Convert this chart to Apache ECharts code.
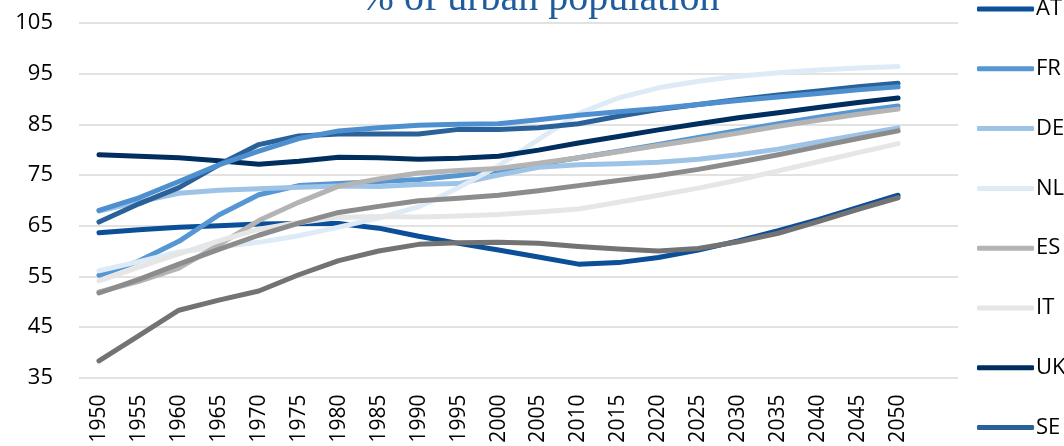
<!DOCTYPE html>
<html>
<head>
<meta charset="utf-8">
<script src="https://cdn.jsdelivr.net/npm/echarts@6/dist/echarts.min.js"></script>
<style>
html,body{margin:0;padding:0;background:#fff;}
#chart{width:1064px;height:446px;}
</style>
</head>
<body>
<div id="chart"></div>
<script>
const years = ['1950','1955','1960','1965','1970','1975','1980','1985','1990','1995','2000','2005','2010','2015','2020','2025','2030','2035','2040','2045','2050',''];
const titleText = '% of urban population';
const yTicks = {min: 35, max: 105, interval: 10};

const AT = [63.6,64.2,64.7,65.0,65.3,65.4,65.4,64.5,62.9,61.5,60.2,58.8,57.4,57.7,58.7,60.2,62.0,64.0,66.2,68.6,71.0];
const FR = [55.2,58.0,61.9,67.1,71.1,72.9,73.3,73.7,74.1,74.9,75.9,77.1,78.4,79.7,81.0,82.4,83.8,85.1,86.4,87.6,88.6];
const DE = [67.9,69.7,71.4,72.0,72.3,72.6,72.8,72.7,73.1,73.3,75.0,76.5,77.0,77.2,77.5,78.1,79.0,80.1,81.5,82.9,84.3];
const NL = [56.1,57.9,59.8,60.8,61.7,63.0,64.7,66.5,68.7,72.5,76.8,82.0,87.1,90.2,92.2,93.5,94.5,95.2,95.7,96.1,96.4];
const ES = [51.9,54.0,56.6,61.2,66.0,69.6,72.8,74.2,75.4,75.9,76.3,77.3,78.4,79.6,80.8,82.0,83.3,84.6,85.8,87.0,88.0];
const IT = [54.1,56.8,59.4,62.0,64.3,65.6,66.6,66.8,66.7,66.9,67.2,67.7,68.3,69.6,71.0,72.4,74.0,75.8,77.6,79.4,81.2];
const UK = [79.0,78.7,78.4,77.8,77.1,77.7,78.5,78.4,78.1,78.3,78.7,79.9,81.3,82.6,83.9,85.1,86.3,87.3,88.3,89.3,90.2];
const SE = [65.7,69.3,72.5,77.0,81.0,82.7,83.1,83.1,83.1,84.0,84.0,84.3,85.1,86.6,87.9,88.9,89.9,90.8,91.6,92.4,93.1];
const DK = [68.0,70.5,73.7,77.0,79.7,82.2,83.7,84.3,84.8,85.0,85.1,85.9,86.8,87.5,88.1,88.9,89.7,90.4,91.1,91.8,92.4];
const EU = [51.7,54.4,57.4,60.3,63.1,65.5,67.6,68.8,69.9,70.4,71.0,71.9,72.9,73.9,74.9,76.1,77.5,79.0,80.6,82.2,83.7];
const PL = [38.3,43.3,48.3,50.3,52.1,55.3,58.1,60.0,61.3,61.6,61.7,61.5,60.9,60.4,60.0,60.5,61.8,63.5,65.8,68.2,70.5];

const seriesNames = ['AT','FR','DE','NL','ES','IT','UK','SE','DK','EU','PL'];
const seriesData = [AT,FR,DE,NL,ES,IT,UK,SE,DK,EU,PL];
const seriesColors = ['#0b4f98','#5596d3','#9dc3e6','#deebf7','#b4b4b4','#e6e6e6','#002e5e','#2b6199','#4e90cf','#8c8c8c','#737373'];

const chart = echarts.init(document.getElementById('chart'));
chart.setOption({
  animation: false,
  backgroundColor: '#fff',
  graphic: [{
    type: 'text',
    x: 540, y: 19,
    style: {
      text: titleText,
      fill: '#1f5c9e',
      font: '40px "Liberation Serif"',
      textAlign: 'center',
      textVerticalAlign: 'bottom'
    }
  }],
  legend: {
    orient: 'vertical',
    left: 972,
    top: -7,
    height: 1000,
    itemWidth: 57,
    itemHeight: 5,
    itemGap: 37.8,
    icon: 'roundRect',
    textStyle: {fontFamily: 'Open Sans', fontSize: 22, color: '#000', lineHeight: 22, padding: [0,0,0,-3]},
    data: seriesNames
  },
  grid: {left: 79, right: 106, top: 23, bottom: 68.4, containLabel: false},
  xAxis: {
    type: 'category',
    data: years,
    boundaryGap: true,
    axisLine: {show: false},
    axisTick: {show: false},
    axisLabel: {interval: 0, rotate: 90, margin: 17, fontFamily: 'Open Sans', fontSize: 21, color: '#000'}
  },
  yAxis: {
    type: 'value',
    min: yTicks.min, max: yTicks.max, interval: yTicks.interval,
    axisLine: {show: false},
    axisTick: {show: false},
    splitLine: {lineStyle: {color: '#d9d9d9', width: 1.5}},
    axisLabel: {margin: 26, fontFamily: 'Open Sans', fontSize: 22, color: '#000'}
  },
  series: seriesNames.map((n, i) => ({
    name: n,
    type: 'line',
    data: seriesData[i],
    symbol: 'none',
    color: seriesColors[i],
    lineStyle: {width: 5, color: seriesColors[i], cap: 'round', join: 'round'},
    itemStyle: {color: seriesColors[i]}
  }))
});
</script>
</body>
</html>
